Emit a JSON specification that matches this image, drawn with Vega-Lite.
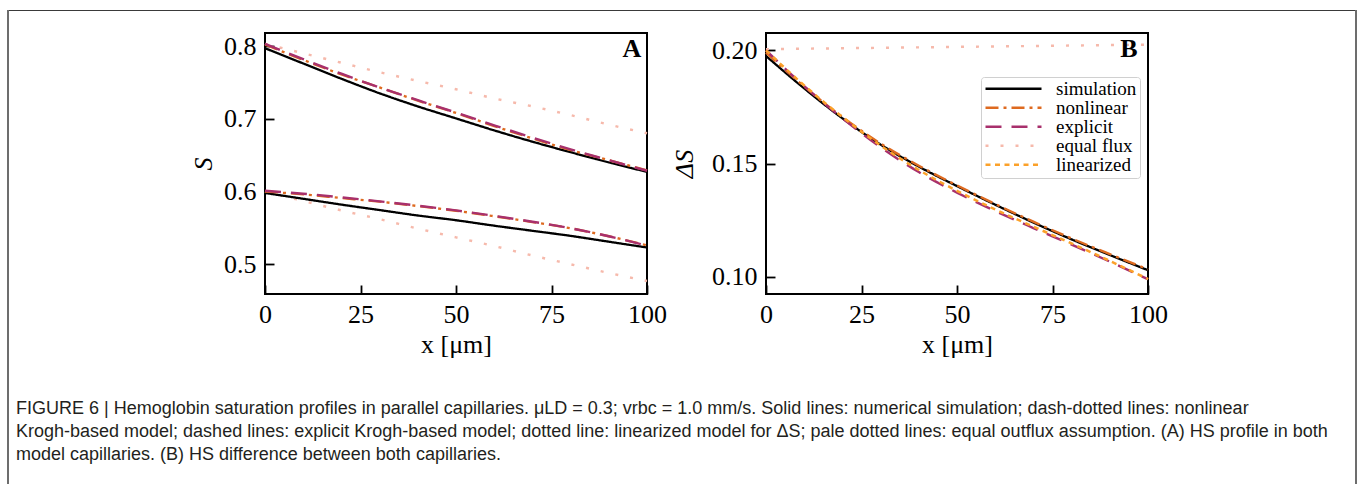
{
  "$schema": "https://vega.github.io/schema/vega-lite/v6.json",
  "background": "white",
  "padding": {"left": 7, "top": 10, "right": 0, "bottom": 0},
  "config": {
    "view": {"stroke": "black", "strokeWidth": 2},
    "axis": {
      "domain": false, "grid": false, "ticks": true, "tickColor": "black", "tickWidth": 1.8, "tickSize": -9,
      "labelFont": "Liberation Serif", "labelFontSize": 26, "labelColor": "black",
      "titleFont": "Liberation Serif", "titleFontSize": 26, "titleFontWeight": "normal", "titleColor": "black",
      "labelFlush": false, "labelOverlap": false
    },
    "axisX": {"labelPadding": 16},
    "axisY": {"labelPadding": 18}
  },
  "datasets": {
    "a": [
      {"model": "equal flux", "cap": "u", "x": 0, "S": 0.803}, {"model": "equal flux", "cap": "u", "x": 10, "S": 0.790}, {"model": "equal flux", "cap": "u", "x": 20, "S": 0.777}, {"model": "equal flux", "cap": "u", "x": 30, "S": 0.764}, {"model": "equal flux", "cap": "u", "x": 40, "S": 0.752}, {"model": "equal flux", "cap": "u", "x": 50, "S": 0.7405}, {"model": "equal flux", "cap": "u", "x": 60, "S": 0.728}, {"model": "equal flux", "cap": "u", "x": 70, "S": 0.717}, {"model": "equal flux", "cap": "u", "x": 80, "S": 0.705}, {"model": "equal flux", "cap": "u", "x": 90, "S": 0.692}, {"model": "equal flux", "cap": "u", "x": 100, "S": 0.680},
      {"model": "equal flux", "cap": "l", "x": 0, "S": 0.600}, {"model": "equal flux", "cap": "l", "x": 10, "S": 0.587}, {"model": "equal flux", "cap": "l", "x": 20, "S": 0.574}, {"model": "equal flux", "cap": "l", "x": 30, "S": 0.562}, {"model": "equal flux", "cap": "l", "x": 40, "S": 0.549}, {"model": "equal flux", "cap": "l", "x": 50, "S": 0.537}, {"model": "equal flux", "cap": "l", "x": 60, "S": 0.525}, {"model": "equal flux", "cap": "l", "x": 70, "S": 0.512}, {"model": "equal flux", "cap": "l", "x": 80, "S": 0.500}, {"model": "equal flux", "cap": "l", "x": 90, "S": 0.488}, {"model": "equal flux", "cap": "l", "x": 100, "S": 0.477},
      {"model": "simulation", "cap": "u", "x": 0, "S": 0.797}, {"model": "simulation", "cap": "u", "x": 10, "S": 0.776}, {"model": "simulation", "cap": "u", "x": 20, "S": 0.755}, {"model": "simulation", "cap": "u", "x": 30, "S": 0.735}, {"model": "simulation", "cap": "u", "x": 40, "S": 0.717}, {"model": "simulation", "cap": "u", "x": 50, "S": 0.7005}, {"model": "simulation", "cap": "u", "x": 60, "S": 0.684}, {"model": "simulation", "cap": "u", "x": 70, "S": 0.6685}, {"model": "simulation", "cap": "u", "x": 80, "S": 0.654}, {"model": "simulation", "cap": "u", "x": 90, "S": 0.640}, {"model": "simulation", "cap": "u", "x": 100, "S": 0.627},
      {"model": "simulation", "cap": "l", "x": 0, "S": 0.598}, {"model": "simulation", "cap": "l", "x": 10, "S": 0.590}, {"model": "simulation", "cap": "l", "x": 20, "S": 0.582}, {"model": "simulation", "cap": "l", "x": 30, "S": 0.5745}, {"model": "simulation", "cap": "l", "x": 40, "S": 0.567}, {"model": "simulation", "cap": "l", "x": 50, "S": 0.5605}, {"model": "simulation", "cap": "l", "x": 60, "S": 0.553}, {"model": "simulation", "cap": "l", "x": 70, "S": 0.546}, {"model": "simulation", "cap": "l", "x": 80, "S": 0.539}, {"model": "simulation", "cap": "l", "x": 90, "S": 0.531}, {"model": "simulation", "cap": "l", "x": 100, "S": 0.523},
      {"model": "nonlinear", "cap": "u", "x": 0, "S": 0.802}, {"model": "nonlinear", "cap": "u", "x": 10, "S": 0.781}, {"model": "nonlinear", "cap": "u", "x": 20, "S": 0.761}, {"model": "nonlinear", "cap": "u", "x": 30, "S": 0.743}, {"model": "nonlinear", "cap": "u", "x": 40, "S": 0.725}, {"model": "nonlinear", "cap": "u", "x": 50, "S": 0.708}, {"model": "nonlinear", "cap": "u", "x": 60, "S": 0.690}, {"model": "nonlinear", "cap": "u", "x": 70, "S": 0.673}, {"model": "nonlinear", "cap": "u", "x": 80, "S": 0.657}, {"model": "nonlinear", "cap": "u", "x": 90, "S": 0.643}, {"model": "nonlinear", "cap": "u", "x": 100, "S": 0.629},
      {"model": "nonlinear", "cap": "l", "x": 0, "S": 0.600}, {"model": "nonlinear", "cap": "l", "x": 10, "S": 0.596}, {"model": "nonlinear", "cap": "l", "x": 20, "S": 0.591}, {"model": "nonlinear", "cap": "l", "x": 30, "S": 0.586}, {"model": "nonlinear", "cap": "l", "x": 40, "S": 0.580}, {"model": "nonlinear", "cap": "l", "x": 50, "S": 0.5735}, {"model": "nonlinear", "cap": "l", "x": 60, "S": 0.566}, {"model": "nonlinear", "cap": "l", "x": 70, "S": 0.558}, {"model": "nonlinear", "cap": "l", "x": 80, "S": 0.5495}, {"model": "nonlinear", "cap": "l", "x": 90, "S": 0.5385}, {"model": "nonlinear", "cap": "l", "x": 100, "S": 0.526},
      {"model": "explicit", "cap": "u", "x": 0, "S": 0.803}, {"model": "explicit", "cap": "u", "x": 10, "S": 0.782}, {"model": "explicit", "cap": "u", "x": 20, "S": 0.762}, {"model": "explicit", "cap": "u", "x": 30, "S": 0.743}, {"model": "explicit", "cap": "u", "x": 40, "S": 0.7255}, {"model": "explicit", "cap": "u", "x": 50, "S": 0.7085}, {"model": "explicit", "cap": "u", "x": 60, "S": 0.691}, {"model": "explicit", "cap": "u", "x": 70, "S": 0.674}, {"model": "explicit", "cap": "u", "x": 80, "S": 0.658}, {"model": "explicit", "cap": "u", "x": 90, "S": 0.643}, {"model": "explicit", "cap": "u", "x": 100, "S": 0.6285},
      {"model": "explicit", "cap": "l", "x": 0, "S": 0.601}, {"model": "explicit", "cap": "l", "x": 10, "S": 0.597}, {"model": "explicit", "cap": "l", "x": 20, "S": 0.592}, {"model": "explicit", "cap": "l", "x": 30, "S": 0.5865}, {"model": "explicit", "cap": "l", "x": 40, "S": 0.5805}, {"model": "explicit", "cap": "l", "x": 50, "S": 0.574}, {"model": "explicit", "cap": "l", "x": 60, "S": 0.5665}, {"model": "explicit", "cap": "l", "x": 70, "S": 0.5585}, {"model": "explicit", "cap": "l", "x": 80, "S": 0.5495}, {"model": "explicit", "cap": "l", "x": 90, "S": 0.5385}, {"model": "explicit", "cap": "l", "x": 100, "S": 0.5255}
    ],
    "b": [
      {"model": "equal flux", "x": 0, "dS": 0.2005}, {"model": "equal flux", "x": 10, "dS": 0.2007}, {"model": "equal flux", "x": 20, "dS": 0.2009}, {"model": "equal flux", "x": 30, "dS": 0.2011}, {"model": "equal flux", "x": 40, "dS": 0.2013}, {"model": "equal flux", "x": 50, "dS": 0.2015}, {"model": "equal flux", "x": 60, "dS": 0.2017}, {"model": "equal flux", "x": 70, "dS": 0.2019}, {"model": "equal flux", "x": 80, "dS": 0.2021}, {"model": "equal flux", "x": 90, "dS": 0.2023}, {"model": "equal flux", "x": 100, "dS": 0.2025},
      {"model": "simulation", "x": 0, "dS": 0.1975}, {"model": "simulation", "x": 10, "dS": 0.1832}, {"model": "simulation", "x": 20, "dS": 0.1700}, {"model": "simulation", "x": 30, "dS": 0.1584}, {"model": "simulation", "x": 40, "dS": 0.1487}, {"model": "simulation", "x": 50, "dS": 0.1401}, {"model": "simulation", "x": 60, "dS": 0.1319}, {"model": "simulation", "x": 70, "dS": 0.1240}, {"model": "simulation", "x": 80, "dS": 0.1166}, {"model": "simulation", "x": 90, "dS": 0.1097}, {"model": "simulation", "x": 100, "dS": 0.1030},
      {"model": "nonlinear", "x": 0, "dS": 0.1990}, {"model": "nonlinear", "x": 10, "dS": 0.1840}, {"model": "nonlinear", "x": 20, "dS": 0.1706}, {"model": "nonlinear", "x": 30, "dS": 0.1589}, {"model": "nonlinear", "x": 40, "dS": 0.1491}, {"model": "nonlinear", "x": 50, "dS": 0.1404}, {"model": "nonlinear", "x": 60, "dS": 0.1322}, {"model": "nonlinear", "x": 70, "dS": 0.1244}, {"model": "nonlinear", "x": 80, "dS": 0.1170}, {"model": "nonlinear", "x": 90, "dS": 0.1101}, {"model": "nonlinear", "x": 100, "dS": 0.1034},
      {"model": "explicit", "x": 0, "dS": 0.2000}, {"model": "explicit", "x": 10, "dS": 0.1842}, {"model": "explicit", "x": 20, "dS": 0.1700}, {"model": "explicit", "x": 30, "dS": 0.1572}, {"model": "explicit", "x": 40, "dS": 0.1463}, {"model": "explicit", "x": 50, "dS": 0.1372}, {"model": "explicit", "x": 60, "dS": 0.1291}, {"model": "explicit", "x": 70, "dS": 0.1216}, {"model": "explicit", "x": 80, "dS": 0.1143}, {"model": "explicit", "x": 90, "dS": 0.1068}, {"model": "explicit", "x": 100, "dS": 0.0990},
      {"model": "linearized", "x": 0, "dS": 0.2000}, {"model": "linearized", "x": 10, "dS": 0.1845}, {"model": "linearized", "x": 20, "dS": 0.1706}, {"model": "linearized", "x": 30, "dS": 0.1580}, {"model": "linearized", "x": 40, "dS": 0.1472}, {"model": "linearized", "x": 50, "dS": 0.1380}, {"model": "linearized", "x": 60, "dS": 0.1298}, {"model": "linearized", "x": 70, "dS": 0.1222}, {"model": "linearized", "x": 80, "dS": 0.1148}, {"model": "linearized", "x": 90, "dS": 0.1071}, {"model": "linearized", "x": 100, "dS": 0.0991}
    ]
  },
  "spacing": 0,
  "resolve": {"scale": {"y": "independent"}, "legend": {"color": "independent", "strokeDash": "independent"}},
  "hconcat": [
    {"width": 2, "height": 480, "data": {"values": []}, "mark": "point", "view": {"stroke": null, "fill": "#6d6d6d"}},
    {
      "spacing": 21,
      "resolve": {"scale": {"y": "independent"}, "legend": {"color": "independent", "strokeDash": "independent"}},
      "title": {
        "text": [
          "FIGURE 6 | Hemoglobin saturation profiles in parallel capillaries. μLD = 0.3; vrbc = 1.0 mm/s. Solid lines: numerical simulation; dash-dotted lines: nonlinear",
          "Krogh-based model; dashed lines: explicit Krogh-based model; dotted line: linearized model for ΔS; pale dotted lines: equal outflux assumption. (A) HS profile in both",
          "model capillaries. (B) HS difference between both capillaries."
        ],
        "orient": "bottom", "anchor": "start", "dx": 7, "offset": 42,
        "font": "Liberation Sans", "fontSize": 18, "fontWeight": "normal", "lineHeight": 23, "color": "#231f20"
      },
      "vconcat": [
        {"width": 1346, "height": 1, "data": {"values": []}, "mark": "point", "view": {"stroke": null, "fill": "#3a3a3a"}},
        {
          "spacing": 2,
          "resolve": {"scale": {"y": "independent"}, "legend": {"color": "independent", "strokeDash": "independent"}},
          "hconcat": [
            {"width": 178, "height": 1, "data": {"values": []}, "mark": "point", "view": {"stroke": null}},
            {
              "width": 382, "height": 261,
              "layer": [
                {
                  "data": {"name": "a"},
                  "mark": {"type": "line", "interpolate": "monotone"},
                  "encoding": {
                    "x": {"field": "x", "type": "quantitative", "scale": {"domain": [0, 100], "nice": false}, "axis": {"values": [0, 25, 50, 75, 100], "format": "d", "title": "x [μm]", "titlePadding": 4}},
                    "y": {"field": "S", "type": "quantitative", "scale": {"domain": [0.4591, 0.8179], "nice": false, "zero": false}, "axis": {"values": [0.5, 0.6, 0.7, 0.8], "format": ".1f", "title": "S", "titleFontStyle": "italic", "titlePadding": 7}},
                    "color": {"field": "model", "type": "nominal", "scale": {"domain": ["simulation", "nonlinear", "explicit", "equal flux", "linearized"], "range": ["#000000", "#de6a20", "#a8306c", "#f6b9ab", "#fba12a"]}, "legend": null},
                    "strokeDash": {"field": "model", "type": "nominal", "scale": {"domain": ["simulation", "nonlinear", "explicit", "equal flux", "linearized"], "range": [[1, 0], [13, 5, 3, 5], [16, 10], [3, 12], [5, 4.5]]}, "legend": null},
                    "strokeWidth": {"field": "model", "type": "nominal", "scale": {"domain": ["simulation", "nonlinear", "explicit", "equal flux", "linearized"], "range": [2.3, 2.5, 2.5, 2.5, 2.5]}, "legend": null},
                    "detail": {"field": "cap"}
                  }
                },
                {
                  "data": {"values": [{"label": "A"}]},
                  "mark": {"type": "text", "font": "Liberation Serif", "fontSize": 26, "fontWeight": "bold", "align": "right", "baseline": "middle"},
                  "encoding": {"x": {"datum": 98.5}, "y": {"datum": 0.796}, "text": {"field": "label"}}
                }
              ]
            },
            {
              "width": 382, "height": 261,
              "layer": [
                {
                  "data": {"name": "b"},
                  "mark": {"type": "line", "interpolate": "monotone"},
                  "encoding": {
                    "x": {"field": "x", "type": "quantitative", "scale": {"domain": [0, 100], "nice": false}, "axis": {"values": [0, 25, 50, 75, 100], "format": "d", "title": "x [μm]", "titlePadding": 4}},
                    "y": {"field": "dS", "type": "quantitative", "scale": {"domain": [0.0925, 0.20763], "nice": false, "zero": false}, "axis": {"values": [0.10, 0.15, 0.20], "format": ".2f", "title": "ΔS", "titleFontStyle": "italic", "titlePadding": 14}},
                    "color": {"field": "model", "type": "nominal", "scale": {"domain": ["simulation", "nonlinear", "explicit", "equal flux", "linearized"], "range": ["#000000", "#de6a20", "#a8306c", "#f6b9ab", "#fba12a"]},
                      "legend": {"orient": "none", "legendX": 215, "legendY": 44, "title": null, "symbolType": "stroke", "symbolSize": 3136, "symbolStrokeWidth": 2.5, "labelFont": "Liberation Serif", "labelFontSize": 19, "labelColor": "black", "labelOffset": 13, "clipHeight": 17.3, "rowPadding": -1.6, "padding": 3, "strokeColor": "#d0d0d0", "cornerRadius": 3, "fillColor": "white"}},
                    "strokeDash": {"field": "model", "type": "nominal", "scale": {"domain": ["simulation", "nonlinear", "explicit", "equal flux", "linearized"], "range": [[1, 0], [13, 5, 3, 5], [16, 10], [3, 12], [5, 4.5]]},
                      "legend": {"orient": "none", "legendX": 215, "legendY": 44, "title": null, "symbolType": "stroke", "symbolSize": 3136, "symbolStrokeWidth": 2.5, "labelFont": "Liberation Serif", "labelFontSize": 19, "labelColor": "black", "labelOffset": 13, "clipHeight": 17.3, "rowPadding": -1.6, "padding": 3, "strokeColor": "#d0d0d0", "cornerRadius": 3, "fillColor": "white"}},
                    "strokeWidth": {"field": "model", "type": "nominal", "scale": {"domain": ["simulation", "nonlinear", "explicit", "equal flux", "linearized"], "range": [2.3, 2.5, 2.5, 2.5, 2.5]}, "legend": null}
                  }
                },
                {
                  "data": {"values": [{"label": "B"}]},
                  "mark": {"type": "text", "font": "Liberation Serif", "fontSize": 26, "fontWeight": "bold", "align": "right", "baseline": "middle"},
                  "encoding": {"x": {"datum": 97.3}, "y": {"datum": 0.2006}, "text": {"field": "label"}}
                }
              ]
            }
          ]
        }
      ]
    },
    {"width": 2, "height": 480, "data": {"values": []}, "mark": "point", "view": {"stroke": null, "fill": "#6d6d6d"}}
  ]
}
